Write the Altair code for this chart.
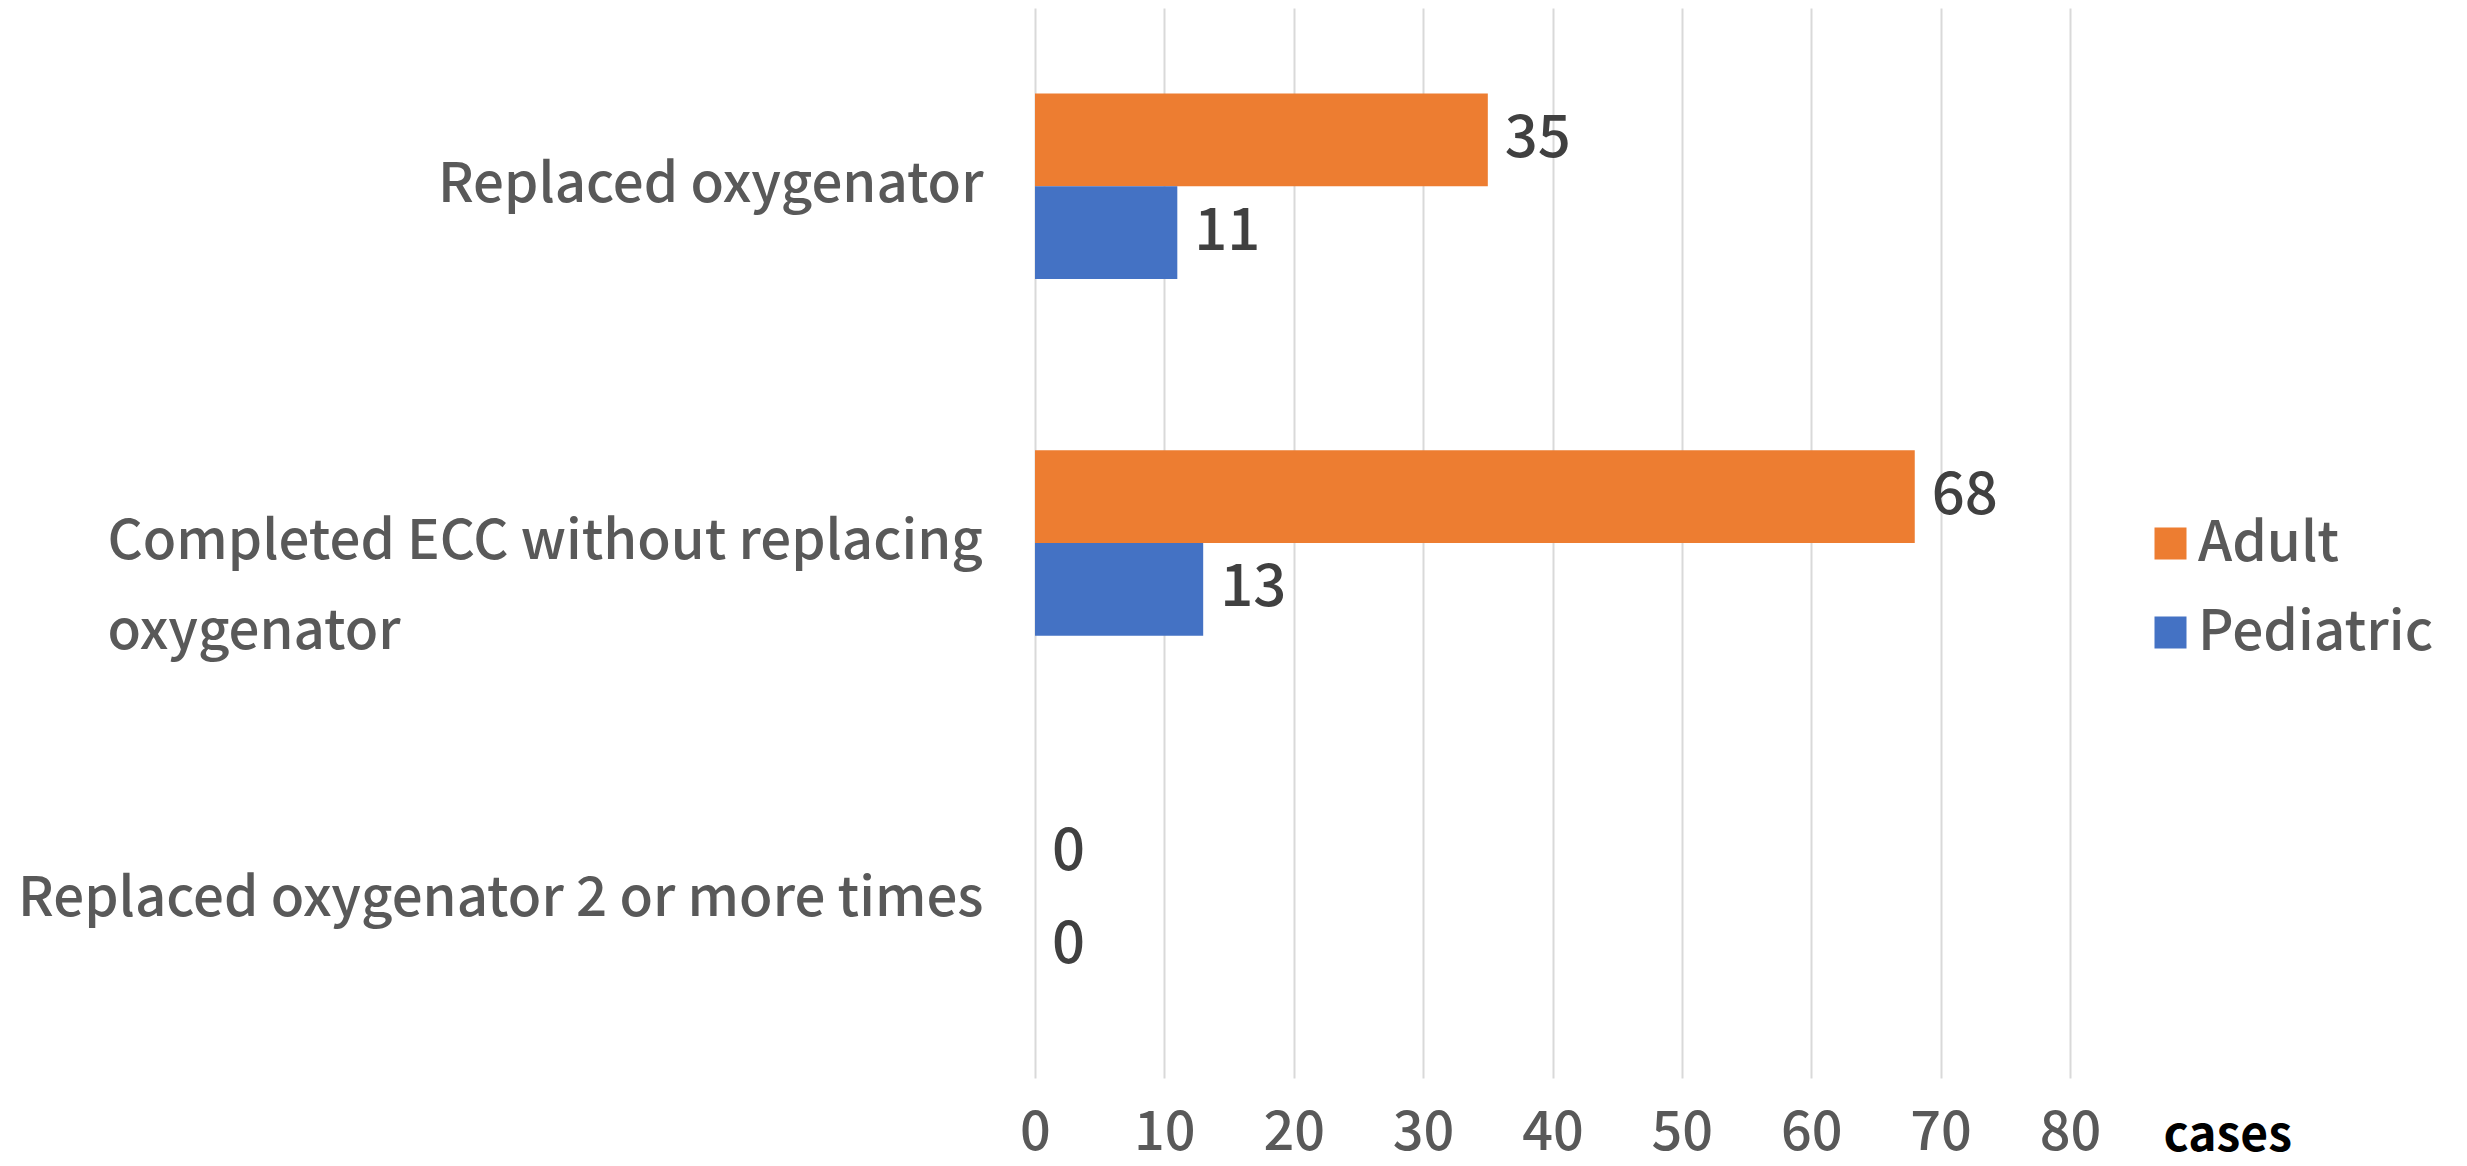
import altair as alt
import pandas as pd

categories = [
    "Replaced oxygenator",
    "Completed ECC without replacing oxygenator",
    "Replaced oxygenator 2 or more times",
]
multi_line_category = "Completed ECC without replacing oxygenator"
multi_line_parts = ["Completed ECC without replacing", "oxygenator"]
series = ["Adult", "Pediatric"]
adult_cases = [35, 68, 0]
pediatric_cases = [11, 13, 0]
x_ticks = [0, 10, 20, 30, 40, 50, 60, 70, 80]
colors = ["#ED7D31", "#4472C4"]

rows = []
for c, a, p in zip(categories, adult_cases, pediatric_cases):
    rows.append({"category": c, "group": "Adult", "cases": a})
    rows.append({"category": c, "group": "Pediatric", "cases": p})
df = pd.DataFrame(rows)

FONT = "Noto Sans CJK JP"
WEIGHT = 500

is_multi = f"datum.value == '{multi_line_category}'"
label_expr = f"{is_multi} ? ['{multi_line_parts[0]}', '{multi_line_parts[1]}'] : datum.value"

y_enc = alt.Y(
    "category:N",
    sort=categories,
    scale=alt.Scale(paddingInner=0.48, paddingOuter=0.24),
    axis=alt.Axis(
        title=None,
        ticks=False,
        tickSize=0,
        domain=False,
        grid=False,
        labelExpr=label_expr,
        labelFont=FONT,
        labelFontSize=54.6,
        labelFontWeight=WEIGHT,
        labelColor="#595959",
        labelAlign={"condition": {"test": is_multi, "value": "left"}, "value": "right"},
        labelPadding={"condition": {"test": is_multi, "value": 928}, "value": 52},
        labelLineHeight=90,
        labelBaseline="middle",
        labelLimit=0,
    ),
)
yoff_enc = alt.YOffset("group:N", sort=series)
x_enc = alt.X(
    "cases:Q",
    scale=alt.Scale(domain=[0, 80], nice=False),
    axis=alt.Axis(
        values=x_ticks,
        format="d",
        title="cases",
        titleX=1128,
        titleY=58,
        titleAlign="left",
        titleBaseline="middle",
        titleFont=FONT,
        titleFontSize=48,
        titleFontWeight="bold",
        titleColor="#000000",
        labelFont=FONT,
        labelFontSize=54,
        labelFontWeight=WEIGHT,
        labelColor="#595959",
        labelPadding=55,
        labelBaseline="middle",
        labelFlush=False,
        ticks=False,
        tickSize=0,
        domain=False,
        grid=True,
        gridColor="#d9d9d9",
        gridWidth=2,
    ),
)

bars = alt.Chart(df).mark_bar().encode(
    x=x_enc,
    y=y_enc,
    yOffset=yoff_enc,
    color=alt.Color(
        "group:N",
        sort=series,
        scale=alt.Scale(domain=series, range=colors),
        legend=alt.Legend(
            title=None,
            orient="none",
            legendX=1108,
            legendY=508,
            symbolType="square",
            symbolSize=1024,
            symbolStrokeWidth=0,
            symbolOpacity=1,
            labelFont=FONT,
            labelFontSize=55,
            labelFontWeight=WEIGHT,
            labelColor="#595959",
            labelOffset=0,
            labelLimit=600,
            rowPadding=33,
            padding=0,
        ),
    ),
)

labels = alt.Chart(df).mark_text(
    align="left", baseline="middle", dx=17, font=FONT, fontSize=58,
    fontWeight=WEIGHT, color="#404040"
).encode(
    x=alt.X("cases:Q"),
    y=alt.Y("category:N", sort=categories),
    yOffset=alt.YOffset("group:N", sort=series),
    text=alt.Text("cases:Q", format="d"),
)

chart = (
    alt.layer(bars, labels)
    .properties(
        width=1035,
        height=1070,
        autosize=alt.AutoSizeParams(type="none"),
        padding={"left": 1027, "top": 0, "right": 389, "bottom": 80},
        background="white",
    )
    .configure_view(stroke=None)
)

chart.save("out.html", embed_options={"renderer": "svg", "actions": False})
